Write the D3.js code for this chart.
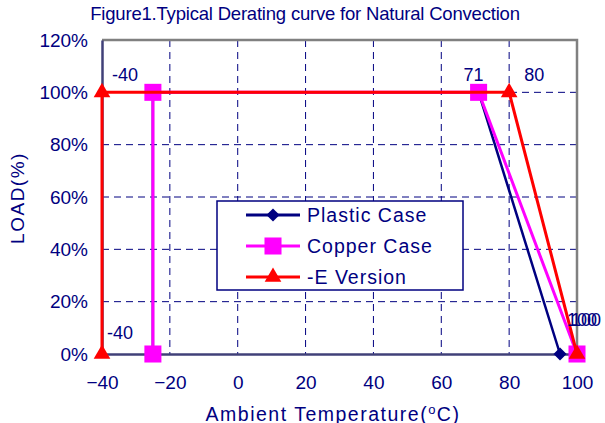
<!DOCTYPE html>
<html>
<head>
<meta charset="utf-8">
<script src="https://cdn.jsdelivr.net/npm/d3@7"></script>
<style>
  body { margin: 0; background: #fff; }
  text { font-family: Arial, "Liberation Sans", sans-serif; fill: #000080; }
</style>
</head>
<body>
<div id="chart"></div>
<script>
// data
const xTicks = [-40, -20, 0, 20, 40, 60, 80, 100];
const yTicks = [0, 20, 40, 60, 80, 100, 120];

const plasticTemp = [-25, -25, 71, 95];
const plasticLoad = [0, 100, 100, 0];
const copperTemp = [-25, -25, 71, 100];
const copperLoad = [0, 100, 100, 0];
const eTemp = [-40, -40, 80, 100];
const eLoad = [0, 100, 100, 0];

const seriesNames = ["Plastic Case", "Copper Case", "-E Version"];

// labels shown next to points: [temp, load, text]
const copperLabels = [[71, 100, "71"], [100, 0, "100"]];
const eLabels = [[-40, 100, "-40"], [-40, 0, "-40"], [80, 100, "80"], [100, 0, "100"]];

const width = 605, height = 423;
const margin = {top: 40, right: 28, bottom: 69, left: 102};

const svg = d3.select("#chart").append("svg")
    .attr("width", width)
    .attr("height", height);

const x = d3.scaleLinear().domain([-40, 100]).range([margin.left, width - margin.right]);
const y = d3.scaleLinear().domain([0, 120]).range([height - margin.bottom, margin.top]);

// title
svg.append("text")
    .attr("x", 305).attr("y", 20)
    .attr("text-anchor", "middle")
    .style("font-size", "18.5px")
    .style("letter-spacing", "-0.2px")
    .text("Figure1.Typical Derating curve for Natural Convection");

// dashed grid
svg.append("g").selectAll("line")
    .data(xTicks.filter(d => d > -40 && d < 100))
    .enter().append("line")
    .attr("x1", d => x(d)).attr("x2", d => x(d))
    .attr("y1", y(120)).attr("y2", y(0))
    .attr("stroke", "#000080").attr("stroke-width", 1)
    .attr("stroke-dasharray", "7,5");

svg.append("g").selectAll("line")
    .data(yTicks.filter(d => d > 0 && d < 120))
    .enter().append("line")
    .attr("x1", x(-40)).attr("x2", x(100))
    .attr("y1", d => y(d)).attr("y2", d => y(d))
    .attr("stroke", "#000080").attr("stroke-width", 1)
    .attr("stroke-dasharray", "7,5");

// frame: top + right gray
svg.append("path")
    .attr("d", `M${x(-40)},${y(120)}H${x(100)}V${y(0)}`)
    .attr("fill", "none").attr("stroke", "#808080").attr("stroke-width", 2.5);

// axes
const xAxis = svg.append("g")
    .attr("transform", `translate(0,${y(0)})`)
    .call(d3.axisBottom(x).tickValues(xTicks).tickSize(0).tickPadding(22));
const yAxis = svg.append("g")
    .attr("transform", `translate(${x(-40)},0)`)
    .call(d3.axisLeft(y).tickValues(yTicks).tickSize(0).tickPadding(14).tickFormat(d => d + "%"));

[xAxis, yAxis].forEach(function (a) {
    a.select(".domain").attr("stroke", "#404078").attr("stroke-width", 2.5);
    a.selectAll("text").style("font-size", "19px").attr("fill", "#000080");
});

// axis titles
const xt = svg.append("text")
    .attr("x", 333).attr("y", 421)
    .attr("text-anchor", "middle")
    .style("font-size", "19.5px")
    .style("letter-spacing", "1.5px");
xt.append("tspan").text("Ambient Temperature(");
xt.append("tspan").attr("dy", -7).style("font-size", "13px").text("o");
xt.append("tspan").attr("dy", 7).text("C)");

svg.append("text")
    .attr("transform", "translate(24,198) rotate(-90)")
    .attr("text-anchor", "middle")
    .style("font-size", "19px")
    .style("letter-spacing", "1.5px")
    .text("LOAD(%)");

// series
const line = d3.line().x(d => x(d[0])).y(d => y(d[1]));

const plastic = d3.zip(plasticTemp, plasticLoad);
const copper = d3.zip(copperTemp, copperLoad);
const eVer = d3.zip(eTemp, eLoad);

const diamond = d3.symbol().type(d3.symbolDiamond2).size(110);
const square = d3.symbol().type(d3.symbolSquare).size(290);
const triangle = d3.symbol().type(d3.symbolTriangle).size(120);

function drawSeries(data, color, sym, lw) {
    svg.append("path")
        .datum(data)
        .attr("d", line)
        .attr("fill", "none")
        .attr("stroke", color)
        .attr("stroke-width", lw);
    svg.append("g").selectAll("path")
        .data(data)
        .enter().append("path")
        .attr("d", sym)
        .attr("transform", d => `translate(${x(d[0])},${y(d[1])})`)
        .attr("fill", color);
}

drawSeries(plastic, "#000080", diamond, 2.5);
drawSeries(copper, "#ff00ff", square, 3);
drawSeries(eVer, "#ff0000", triangle, 3);

// point labels
const labelOffsets = {
    "71": [-5, -17, "middle"],
    "80": [11, -17, "start"],
    "100": [-10, -34, "start"]
};
function drawLabels(labels, extra) {
    svg.append("g").selectAll("text")
        .data(labels)
        .enter().append("text")
        .attr("x", function (d) {
            if (d[2] == "-40") return x(d[0]) + (d[1] > 0 ? 10 : 5);
            return x(d[0]) + labelOffsets[d[2]][0] + extra;
        })
        .attr("y", function (d) {
            if (d[2] == "-40") return y(d[1]) + (d[1] > 0 ? -17 : -21) + 6;
            return y(d[1]) + labelOffsets[d[2]][1] + 6;
        })
        .attr("text-anchor", d => d[2] == "-40" ? "start" : labelOffsets[d[2]][2])
        .style("font-size", "18px")
        .text(d => d[2]);
}
drawLabels(copperLabels, 0);
drawLabels(eLabels, 4);

// legend
const legend = svg.append("g");
legend.append("rect")
    .attr("x", 217).attr("y", 201)
    .attr("width", 246).attr("height", 89)
    .attr("fill", "#fff")
    .attr("stroke", "#000080").attr("stroke-width", 1.5);

const legendColors = ["#000080", "#ff00ff", "#ff0000"];
const legendSyms = [diamond, square, triangle];

seriesNames.forEach(function (name, i) {
    const ly = 215 + i * 31;
    legend.append("line")
        .attr("x1", 246).attr("x2", 300)
        .attr("y1", ly).attr("y2", ly)
        .attr("stroke", legendColors[i]).attr("stroke-width", 3);
    legend.append("path")
        .attr("d", legendSyms[i])
        .attr("transform", `translate(273,${ly})`)
        .attr("fill", legendColors[i]);
    legend.append("text")
        .attr("x", 307).attr("y", ly + 7)
        .style("font-size", "19.5px")
        .style("letter-spacing", "1px")
        .text(name);
});
</script>
</body>
</html>
